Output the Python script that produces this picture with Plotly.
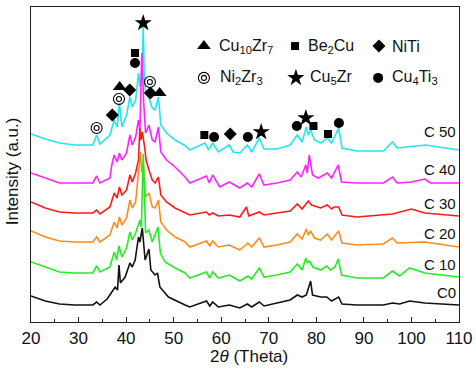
import plotly.graph_objects as go

# ---------------- data (2theta, intensity a.u.) ----------------
c0_x = [20, 23, 26, 29.2, 33, 33.8, 34.5, 36.0, 37.0, 37.7, 38.2, 38.5, 38.8, 39.8, 40.8, 41.3, 41.9, 42.6, 42.9, 43.4,
        44.0, 44.8, 45.2, 46.1, 46.6, 47.1, 48.9, 50.5, 52.4, 53.4, 56.9, 57.6, 58.2, 59.4, 61.7, 63.9, 65.5, 66.4, 68.0,
        69.0, 71.7, 74.5, 76.0, 77.0, 77.9, 78.8, 79.2, 80.9, 82.2, 83.2, 84.7, 85.4, 88.5, 94.1, 96.0, 97.5, 99.6, 102.8, 110]
c0_y = [26, 21, 18, 17, 17, 20, 17, 23, 30, 35, 32, 57, 39, 45, 59, 55, 62, 85, 80, 94,
        62, 73, 52, 47, 49, 35, 25, 21, 17, 15, 21, 16, 20, 15, 17, 14, 18, 15, 20,
        16, 19, 22, 27, 25, 27, 41, 27, 25, 25, 21, 25, 18, 17, 17, 19, 18, 21, 19, 17]

c10_x = [20, 23, 26, 29.2, 33, 33.8, 34.5, 36.6, 37.5, 38.0, 38.5, 39.1, 40.1, 40.8, 41.3, 42.0, 42.9, 43.2, 43.6, 44.1,
         44.8, 45.5, 46.7, 47.2, 48.2, 50.3, 52.4, 53.4, 56.9, 57.6, 58.2, 59.4, 61.7, 63.9, 65.6, 66.4, 68.0, 69.0, 71.7,
         74.5, 76.0, 77.0, 77.8, 78.1, 78.5, 79.3, 80.9, 82.2, 83.0, 83.9, 84.6, 85.3, 88.5, 94.1, 96.0, 97.5, 99.6, 102.8, 110]
c10_y = [60, 55, 50, 49, 49, 56, 50, 55, 70, 62, 76, 65, 74, 90, 82, 89, 102, 95, 168, 89,
         92, 80, 95, 69, 60, 54, 49, 44, 50, 44, 50, 44, 47, 41, 46, 43, 54, 45, 47,
         50, 58, 52, 64, 59, 61, 55, 52, 56, 52, 55, 63, 47, 44, 44, 51, 46, 54, 49, 45]

c20_x = [20, 23, 26, 29.2, 33, 33.8, 34.5, 36.6, 37.5, 38.1, 38.6, 39.1, 40.1, 40.8, 41.3, 42.0, 42.6, 43.0, 43.3, 43.6,
         44.1, 44.8, 45.5, 46.1, 46.8, 47.3, 48.5, 50.3, 52.4, 53.4, 56.9, 57.6, 58.2, 59.4, 61.7, 63.9, 65.6, 66.4, 68.0,
         69.0, 71.7, 74.5, 76.0, 77.0, 77.9, 78.3, 78.8, 79.6, 80.9, 82.3, 83.2, 84.7, 85.4, 88.5, 94.1, 96.0, 97.0, 102.8, 110]
c20_y = [91, 85, 81, 80, 80, 85, 80, 87, 100, 94, 105, 97, 104, 122, 114, 120, 149, 170, 150, 160,
         125, 129, 115, 114, 122, 100, 92, 85, 80, 75, 81, 76, 81, 75, 77, 72, 79, 75, 84,
         75, 77, 80, 88, 83, 93, 87, 91, 84, 82, 88, 82, 91, 79, 77, 78, 84, 79, 80, 75]

c30_x = [20, 23, 26, 29.2, 33, 33.8, 34.5, 36.6, 37.5, 38.1, 38.6, 39.1, 40.1, 40.8, 41.3, 42.0, 42.6, 42.9, 43.1, 43.4,
         43.9, 44.2, 44.8, 45.5, 46.1, 46.8, 47.3, 48.5, 50.3, 52.4, 53.4, 56.9, 57.5, 58.2, 59.4, 61.7, 63.9, 65.3, 65.8,
         68.0, 69.0, 71.7, 74.5, 76.0, 77.0, 78.3, 79.0, 80.9, 82.3, 83.2, 83.7, 84.7, 85.4, 88.5, 94.1, 96, 100, 102.8, 110]
c30_y = [120, 114, 110, 109, 109, 112, 108, 115, 129, 124, 135, 127, 132, 147, 140, 149, 162, 194, 182, 190,
         175, 162, 152, 142, 139, 145, 127, 120, 114, 109, 107, 110, 107, 109, 106, 107, 105, 115, 106,
         110, 107, 109, 111, 118, 113, 121, 117, 114, 117, 113, 115, 115, 107, 105, 107, 108, 113, 109, 106]

c40_x = [20, 23, 26, 29.2, 33, 33.8, 34.5, 36.6, 37.0, 37.5, 38.1, 38.6, 39.1, 40.1, 40.8, 41.3, 42.0, 42.6, 42.9, 43.3,
         43.7, 44.1, 44.8, 45.5, 46.1, 46.8, 47.3, 48.5, 50.3, 52.4, 53.4, 56.9, 57.5, 58.2, 59.7, 61.7, 63.9, 65.5, 66.4,
         68.0, 69.0, 71.7, 74.5, 76.0, 76.8, 77.8, 78.1, 78.5, 79.2, 80.4, 82.3, 83.2, 84.6, 85.3, 88.5, 94.1, 96.05, 97,
         100, 102.8, 104, 110]
c40_y = [149, 144, 139, 139, 139, 146, 139, 144, 157, 167, 160, 169, 162, 169, 187, 177, 185, 202, 192, 269,
         219, 189, 197, 182, 180, 195, 170, 162, 155, 145, 139, 146, 139, 147, 135, 140, 134, 139, 135,
         148, 137, 139, 142, 150, 145, 157, 149, 167, 147, 144, 149, 144, 157, 140, 139, 139, 145, 139,
         140, 143, 139, 139]

c50_x = [20, 23, 26, 29.2, 33, 33.8, 34.5, 36.6, 37.5, 38.1, 38.6, 39.1, 40.1, 40.8, 41.3, 42.0, 42.6, 42.9, 43.4, 43.6,
         43.8, 44.1, 44.8, 45.5, 46.1, 46.8, 47.3, 48.5, 50.3, 52.2, 53.4, 56.6, 57.3, 58.2, 59.4, 61.7, 62.5, 63.9, 65.5,
         66.4, 68.0, 69.0, 71.7, 74.5, 76.0, 77.0, 77.9, 78.3, 78.8, 79.6, 81.0, 82.3, 83.2, 84.7, 85.4, 88.5, 94.1, 96.0,
         97.0, 103, 110]
c50_y = [188, 183, 179, 177, 177, 187, 178, 187, 202, 195, 219, 195, 207, 225, 215, 222, 249, 235, 255, 295,
         250, 229, 224, 214, 212, 225, 197, 189, 182, 177, 172, 179, 172, 179, 170, 177, 170, 169, 177,
         170, 184, 173, 173, 177, 187, 180, 195, 187, 192, 182, 179, 184, 179, 194, 174, 171, 171, 180,
         174, 177, 172]

series_names = ["C0", "C 10", "C 20", "C 30", "C 40", "C 50"]
series_x = [c0_x, c10_x, c20_x, c30_x, c40_x, c50_x]
series_y = [c0_y, c10_y, c20_y, c30_y, c40_y, c50_y]
series_colors = ["#111111", "#22ee22", "#ff8c1a", "#ff1a1a", "#ff22ff", "#1ee8f0"]
label_y = [30, 58, 89, 119, 153, 191]

# phase peak markers (2theta, height)
cu10zr7_x, cu10zr7_y = [38.65, 47.05], [235, 229]
be2cu_x, be2cu_y = [41.87, 56.45, 79.4, 82.45], [269, 187, 196, 188]
niti_x, niti_y = [37.1, 40.75, 45.1, 61.9], [207, 232, 229, 188]
ni2zr3_x, ni2zr3_y = [33.8, 38.5, 45.0], [194, 223, 240]
cu5zr_x, cu5zr_y = [43.6, 68.4, 77.8], [299, 190, 204]
cu4ti3_x, cu4ti3_y = [41.87, 58.5, 65.6, 75.9, 84.75], [259, 185, 185, 196, 199]

FONT = "Liberation Sans, Arial, sans-serif"
fig = go.Figure()

# curves (top curve drawn first so lower ones sit on top)
for name, xs, ys, col in reversed(list(zip(series_names, series_x, series_y, series_colors))):
    fig.add_trace(go.Scatter(x=xs, y=ys, mode="lines", name=name,
                             line=dict(color=col, width=1.6), showlegend=False))

def mk(xs, ys, symbol, size, lw=0, open_=False, xaxis="x", yaxis="y"):
    m = dict(symbol=symbol, size=size, color="black")
    if open_:
        m["line"] = dict(color="black", width=lw)
    fig.add_trace(go.Scatter(x=xs, y=ys, mode="markers", marker=m, showlegend=False,
                             hoverinfo="skip", xaxis=xaxis, yaxis=yaxis, cliponaxis=False))

mk(cu10zr7_x, cu10zr7_y, "triangle-up", 12)
mk(be2cu_x, be2cu_y, "square", 8)
mk(niti_x, niti_y, "diamond", 10)
mk(ni2zr3_x, ni2zr3_y, "circle-open", 11, 1.1, True)
mk(ni2zr3_x, ni2zr3_y, "circle-open", 5, 1.1, True)
mk(cu5zr_x, cu5zr_y, "star", 13)
mk(cu4ti3_x, cu4ti3_y, "circle", 10)

# legend (overlay axes in plot fractions)
leg_mx = [0.404, 0.617, 0.813]
leg_row = [0.876, 0.775]
mk([leg_mx[0]], [leg_row[0]], "triangle-up", 12, xaxis="x2", yaxis="y2")
mk([leg_mx[1]], [leg_row[0]], "square", 8, xaxis="x2", yaxis="y2")
mk([leg_mx[2]], [leg_row[0]], "diamond", 10, xaxis="x2", yaxis="y2")
mk([leg_mx[0]], [leg_row[1]], "circle-open", 11, 1.1, True, xaxis="x2", yaxis="y2")
mk([leg_mx[0]], [leg_row[1]], "circle-open", 5, 1.1, True, xaxis="x2", yaxis="y2")
mk([0.619], [leg_row[1]], "star", 13, xaxis="x2", yaxis="y2")
mk([0.811], [leg_row[1]], "circle", 10, xaxis="x2", yaxis="y2")

leg_texts = [("Cu<sub>10</sub>Zr<sub>7</sub>", 0.435, leg_row[0]), ("Be<sub>2</sub>Cu", 0.643, leg_row[0]),
             ("NiTi", 0.839, leg_row[0]), ("Ni<sub>2</sub>Zr<sub>3</sub>", 0.437, leg_row[1]),
             ("Cu<sub>5</sub>Zr", 0.647, leg_row[1]), ("Cu<sub>4</sub>Ti<sub>3</sub>", 0.839, leg_row[1])]
for t, x, y in leg_texts:
    fig.add_annotation(text=t, x=x, y=y, xref="paper", yref="paper", xanchor="left", yanchor="middle",
                       showarrow=False, font=dict(family=FONT, size=16, color="#111"))

for name, ly in zip(series_names, label_y):
    fig.add_annotation(text=name, x=109.7, y=ly, xref="x", yref="y", xanchor="right", yanchor="middle",
                       showarrow=False, font=dict(family=FONT, size=15, color="#111"))

fig.add_annotation(text="Intensity (a.u.)", x=-0.044, y=0.479, xref="paper", yref="paper",
                   textangle=-90, showarrow=False, xanchor="center", yanchor="middle",
                   font=dict(family=FONT, size=17, color="#111"))
fig.add_annotation(text="2<i>θ</i> (Theta)", x=0.509, y=-0.111, xref="paper", yref="paper",
                   showarrow=False, xanchor="center", yanchor="middle",
                   font=dict(family=FONT, size=17, color="#111"))

fig.update_layout(
    width=476, height=373,
    margin=dict(l=31, r=17, t=7, b=51, autoexpand=False),
    paper_bgcolor="white", plot_bgcolor="white",
    xaxis=dict(range=[20, 110], dtick=10, tick0=20, ticks="inside", ticklen=5, tickwidth=1.2,
               tickcolor="#222", showline=True, linecolor="#222", linewidth=1.4, mirror=True,
               showgrid=False, zeroline=False, automargin=False,
               tickfont=dict(family=FONT, size=17, color="#111"),
               minor=dict(dtick=5, ticks="inside", ticklen=3, tickcolor="#222", tickwidth=1.2)),
    yaxis=dict(range=[0, 315], showticklabels=False, ticks="", showline=True, linecolor="#222",
               linewidth=1.4, mirror=True, showgrid=False, zeroline=False, automargin=False),
    xaxis2=dict(range=[0, 1], overlaying="x", visible=False),
    yaxis2=dict(range=[0, 1], overlaying="y", visible=False),
)

fig.write_html("out.html", config={"displayModeBar": False},
               post_script="document.body.style.margin='0px';document.body.style.overflow='hidden';")
